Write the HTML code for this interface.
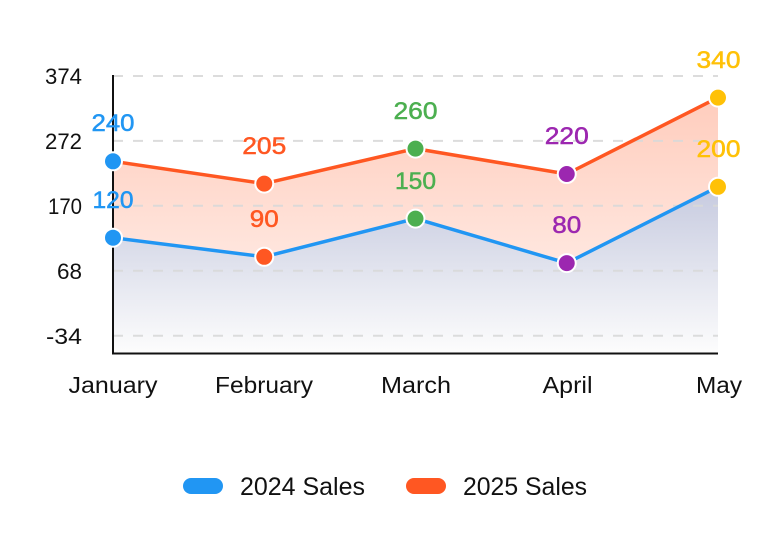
<!DOCTYPE html>
<html>
<head>
<meta charset="utf-8">
<style>
  html,body{margin:0;padding:0;background:#fff;}
  svg{display:block;}
  text{font-family:"Liberation Sans",Arial,sans-serif;}
</style>
</head>
<body>
<svg width="778" height="534" viewBox="0 0 778 534" xmlns="http://www.w3.org/2000/svg">
  <defs>
    <linearGradient id="gOr" gradientUnits="userSpaceOnUse" x1="0" y1="97" x2="0" y2="354">
      <stop offset="0" stop-color="#ff5722" stop-opacity="0.30"/>
      <stop offset="1" stop-color="#ff5722" stop-opacity="0.06"/>
    </linearGradient>
    <linearGradient id="gGr" gradientUnits="userSpaceOnUse" x1="0" y1="186" x2="0" y2="354">
      <stop offset="0" stop-color="#c6cadf"/>
      <stop offset="1" stop-color="#fdfdfd"/>
    </linearGradient>
  </defs>

  <!-- fills -->
  <polygon fill="url(#gOr)" points="113,161.3 264.25,183.6 415.5,148.6 566.75,174 718,97.6 718,186.8 566.75,263.1 415.5,218.6 264.25,256.8 113,237.7"/>
  <polygon fill="url(#gGr)" points="113,237.7 264.25,256.8 415.5,218.6 566.75,263.1 718,186.8 718,354 113,354"/>

  <!-- gridlines -->
  <g stroke="#d9d9d9" stroke-width="2" stroke-dasharray="10 10" opacity="0.9">
    <line x1="113" y1="76" x2="718" y2="76"/>
    <line x1="113" y1="140.9" x2="718" y2="140.9"/>
    <line x1="113" y1="205.8" x2="718" y2="205.8"/>
    <line x1="113" y1="270.8" x2="718" y2="270.8"/>
    <line x1="113" y1="335.7" x2="718" y2="335.7"/>
  </g>

  <!-- axes -->
  <line x1="113" y1="75" x2="113" y2="354" stroke="#111" stroke-width="2"/>
  <line x1="112" y1="353.5" x2="718" y2="353.5" stroke="#111" stroke-width="2"/>

  <!-- y tick labels -->
  <g font-size="22" fill="#111" text-anchor="end">
    <text x="82" y="84" textLength="37" lengthAdjust="spacingAndGlyphs">374</text>
    <text x="82" y="149" textLength="37" lengthAdjust="spacingAndGlyphs">272</text>
    <text x="82" y="214" textLength="34" lengthAdjust="spacingAndGlyphs">170</text>
    <text x="82" y="279" textLength="25" lengthAdjust="spacingAndGlyphs">68</text>
    <text x="82" y="344" textLength="36" lengthAdjust="spacingAndGlyphs">-34</text>
  </g>

  <!-- x tick labels -->
  <g font-size="23" fill="#111">
    <text x="68.5" y="393" textLength="89" lengthAdjust="spacingAndGlyphs">January</text>
    <text x="215" y="393" textLength="98" lengthAdjust="spacingAndGlyphs">February</text>
    <text x="381" y="393" textLength="70" lengthAdjust="spacingAndGlyphs">March</text>
    <text x="542.5" y="393" textLength="50" lengthAdjust="spacingAndGlyphs">April</text>
    <text x="696" y="393" textLength="46" lengthAdjust="spacingAndGlyphs">May</text>
  </g>

  <!-- lines -->
  <polyline fill="none" stroke="#2196f3" stroke-width="3.5" stroke-linejoin="round" points="113,237.7 264.25,256.8 415.5,218.6 566.75,263.1 718,186.8"/>
  <polyline fill="none" stroke="#ff5722" stroke-width="3.5" stroke-linejoin="round" points="113,161.3 264.25,183.6 415.5,148.6 566.75,174 718,97.6"/>

  <!-- points -->
  <g stroke="#fff" stroke-width="2">
    <circle cx="113" cy="237.7" r="9" fill="#2196f3"/>
    <circle cx="264.25" cy="256.8" r="9" fill="#ff5722"/>
    <circle cx="415.5" cy="218.6" r="9" fill="#4caf50"/>
    <circle cx="566.75" cy="263.1" r="9" fill="#9c27b0"/>
    <circle cx="718" cy="186.8" r="9" fill="#ffc107"/>
    <circle cx="113" cy="161.3" r="9" fill="#2196f3"/>
    <circle cx="264.25" cy="183.6" r="9" fill="#ff5722"/>
    <circle cx="415.5" cy="148.6" r="9" fill="#4caf50"/>
    <circle cx="566.75" cy="174" r="9" fill="#9c27b0"/>
    <circle cx="718" cy="97.6" r="9" fill="#ffc107"/>
  </g>

  <!-- data labels -->
  <g font-size="24" text-anchor="middle" stroke-width="0.5">
    <text x="113" y="208" fill="#2196f3" stroke="#2196f3" textLength="41" lengthAdjust="spacingAndGlyphs">120</text>
    <text x="264.25" y="227" fill="#ff5722" stroke="#ff5722" textLength="29" lengthAdjust="spacingAndGlyphs">90</text>
    <text x="415.5" y="189" fill="#4caf50" stroke="#4caf50" textLength="41" lengthAdjust="spacingAndGlyphs">150</text>
    <text x="566.75" y="233" fill="#9c27b0" stroke="#9c27b0" textLength="29" lengthAdjust="spacingAndGlyphs">80</text>
    <text x="718.5" y="157" fill="#ffc107" stroke="#ffc107" textLength="44" lengthAdjust="spacingAndGlyphs">200</text>
    <text x="113" y="131" fill="#2196f3" stroke="#2196f3" textLength="43" lengthAdjust="spacingAndGlyphs">240</text>
    <text x="264.25" y="154" fill="#ff5722" stroke="#ff5722" textLength="44" lengthAdjust="spacingAndGlyphs">205</text>
    <text x="415.5" y="119" fill="#4caf50" stroke="#4caf50" textLength="44" lengthAdjust="spacingAndGlyphs">260</text>
    <text x="566.75" y="144" fill="#9c27b0" stroke="#9c27b0" textLength="44" lengthAdjust="spacingAndGlyphs">220</text>
    <text x="718.5" y="68" fill="#ffc107" stroke="#ffc107" textLength="44" lengthAdjust="spacingAndGlyphs">340</text>
  </g>

  <!-- legend -->
  <rect x="183" y="478" width="40" height="16" rx="8" fill="#2196f3"/>
  <text x="240" y="495" font-size="25" fill="#111" textLength="125" lengthAdjust="spacingAndGlyphs">2024 Sales</text>
  <rect x="406" y="478" width="40" height="16" rx="8" fill="#ff5722"/>
  <text x="463" y="495" font-size="25" fill="#111" textLength="124" lengthAdjust="spacingAndGlyphs">2025 Sales</text>
</svg>
</body>
</html>
